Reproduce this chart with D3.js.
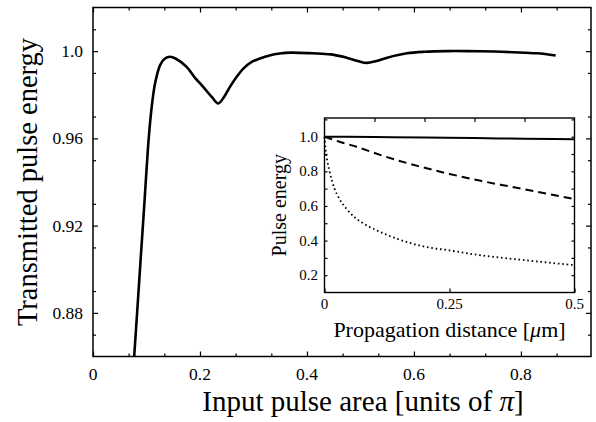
<!DOCTYPE html>
<html>
<head>
<meta charset="utf-8">
<script src="https://cdn.jsdelivr.net/npm/d3@7"></script>
<style>
  html, body { margin: 0; padding: 0; background: #fff; }
  svg { display: block; font-family: "Liberation Serif", "Times New Roman", serif; }
  .axis path { display: none; }
  .axis line { stroke: #000; stroke-width: 1.2; }
  .axis text { fill: #000; }
</style>
</head>
<body>
<svg id="chart" width="596" height="422"></svg>
<script>
// Transmitted energy versus input pulse area
const areaValues = [0.077, 0.083, 0.090, 0.096, 0.1025, 0.107, 0.111, 0.116, 0.1254, 0.134, 0.144, 0.155,
  0.175, 0.19, 0.206, 0.222, 0.234, 0.245, 0.256, 0.268, 0.281, 0.296, 0.312, 0.33, 0.349, 0.37,
  0.41, 0.445, 0.474, 0.495, 0.512, 0.53, 0.55, 0.587, 0.62, 0.661, 0.7, 0.75, 0.785, 0.83, 0.865];
const transmitted = [0.86, 0.882, 0.908, 0.93, 0.9546, 0.968, 0.977, 0.9852, 0.9936, 0.9965, 0.9974, 0.9965,
  0.9928, 0.988, 0.9836, 0.979, 0.976, 0.979, 0.9836, 0.988, 0.992, 0.995, 0.9966, 0.998, 0.9989, 0.9993,
  0.999, 0.9985, 0.997, 0.9955, 0.9946, 0.9955, 0.997, 0.999, 0.9997, 1.0, 1.0, 0.9998, 0.9995, 0.999, 0.998];

const mainXTicks = [0, 0.2, 0.4, 0.6, 0.8];
const mainXTickLabels = ["0", "0.2", "0.4", "0.6", "0.8"];
const mainYTicks = [0.88, 0.92, 0.96, 1.0];
const mainYTickLabels = ["0.88", "0.92", "0.96", "1.0"];

// Inset: pulse energy versus propagation distance
const distSolid = [0, 0.1, 0.2, 0.3, 0.4, 0.5];
const energySolid = [1.0, 0.998, 0.995, 0.992, 0.988, 0.985];
const distDashed = [0, 0.03, 0.0625, 0.125, 0.1875, 0.25, 0.3125, 0.375, 0.4375, 0.5];
const energyDashed = [1.0, 0.971, 0.943, 0.882, 0.83, 0.785, 0.745, 0.71, 0.675, 0.64];
const distDotted = [0, 0.002, 0.005, 0.01, 0.02, 0.03, 0.045, 0.06, 0.08, 0.1, 0.125, 0.15, 0.2, 0.25,
  0.3, 0.35, 0.4, 0.45, 0.5];
const energyDotted = [1.0, 0.93, 0.87, 0.80, 0.70, 0.64, 0.58, 0.535, 0.495, 0.465, 0.433, 0.405, 0.365,
  0.343, 0.32, 0.302, 0.287, 0.272, 0.258];

const insetXTicks = [0, 0.25, 0.5];
const insetXTickLabels = ["0", "0.25", "0.5"];
const insetYTicks = [0.2, 0.4, 0.6, 0.8, 1.0];
const insetYTickLabels = ["0.2", "0.4", "0.6", "0.8", "1.0"];

const svg = d3.select("#chart");

// ---------- main panel ----------
const M = { left: 93, right: 591, top: 7.5, bottom: 356.5 };
const x = d3.scaleLinear().domain([0, 0.931]).range([M.left, M.right]);
const y = d3.scaleLinear().domain([0.86, 1.02]).range([M.bottom, M.top]);

const xMinor = d3.range(1, 14).map(k => k * 0.2 / 3).filter(v => Math.abs(v / 0.2 - Math.round(v / 0.2)) > 1e-6);
const yMinor = d3.range(0.87, 1.02, 0.02).map(v => +v.toFixed(2)).filter(v => !mainYTicks.some(t => Math.abs(t - v) < 1e-6));

function tickGroup(axisFn, scale, ticks, size, tx, ty) {
  svg.append("g").attr("class", "axis").attr("transform", `translate(${tx},${ty})`)
    .call(axisFn(scale).tickValues(ticks).tickSize(size).tickFormat(""));
}
// inward ticks on all four sides
tickGroup(d3.axisBottom, x, mainXTicks, -5, 0, M.bottom);
tickGroup(d3.axisBottom, x, xMinor, -3, 0, M.bottom);
tickGroup(d3.axisTop, x, mainXTicks, -5, 0, M.top);
tickGroup(d3.axisTop, x, xMinor, -3, 0, M.top);
tickGroup(d3.axisLeft, y, mainYTicks, -5, M.left, 0);
tickGroup(d3.axisLeft, y, yMinor, -3, M.left, 0);
tickGroup(d3.axisRight, y, mainYTicks, -5, M.right, 0);
tickGroup(d3.axisRight, y, yMinor, -3, M.right, 0);

svg.append("rect").attr("x", M.left).attr("y", M.top)
  .attr("width", M.right - M.left).attr("height", M.bottom - M.top)
  .attr("fill", "none").attr("stroke", "#000").attr("stroke-width", 1.5);

svg.append("g").selectAll("text").data(mainXTicks).join("text")
  .attr("x", d => x(d)).attr("y", 380).attr("text-anchor", "middle")
  .attr("font-size", 17.5).text((d, i) => mainXTickLabels[i]);
svg.append("g").selectAll("text").data(mainYTicks).join("text")
  .attr("x", 83).attr("y", d => y(d) + 6).attr("text-anchor", "end")
  .attr("font-size", 17.5).text((d, i) => mainYTickLabels[i]);

const xt = svg.append("text").attr("x", 363).attr("y", 411)
  .attr("text-anchor", "middle").attr("font-size", 29);
xt.append("tspan").text("Input pulse area [units of ");
xt.append("tspan").attr("font-style", "italic").text("π");
xt.append("tspan").text("]");

svg.append("text").attr("transform", `translate(37,${(M.top + M.bottom) / 2}) rotate(-90)`)
  .attr("text-anchor", "middle").attr("font-size", 28.5).text("Transmitted pulse energy");

svg.append("defs").append("clipPath").attr("id", "mainClip").append("rect")
  .attr("x", M.left).attr("y", M.top).attr("width", M.right - M.left).attr("height", M.bottom - M.top);

svg.append("path").datum(areaValues.map((v, i) => [v, transmitted[i]]))
  .attr("clip-path", "url(#mainClip)")
  .attr("fill", "none").attr("stroke", "#000").attr("stroke-width", 2.6).attr("stroke-linejoin", "round")
  .attr("d", d3.line().x(d => x(d[0])).y(d => y(d[1])).curve(d3.curveCatmullRom.alpha(0.5)));

// ---------- inset panel ----------
const I = { left: 324.5, right: 574.5, top: 118, bottom: 292.5 };
const ix = d3.scaleLinear().domain([0, 0.5]).range([I.left, I.right]);
const iy = d3.scaleLinear().domain([0.1, 1.108]).range([I.bottom, I.top]);

svg.append("rect").attr("x", I.left).attr("y", I.top)
  .attr("width", I.right - I.left).attr("height", I.bottom - I.top).attr("fill", "#fff");

const iyTen = d3.range(0.2, 1.11, 0.1).map(v => +v.toFixed(1));
const ixTen = [0.1, 0.2, 0.3, 0.4];
tickGroup(d3.axisBottom, ix, insetXTicks, -4, 0, I.bottom);
tickGroup(d3.axisTop, ix, ixTen, -4, 0, I.top);
tickGroup(d3.axisLeft, iy, iyTen, -3, I.left, 0);
tickGroup(d3.axisRight, iy, iyTen, -3, I.right, 0);

svg.append("rect").attr("x", I.left).attr("y", I.top)
  .attr("width", I.right - I.left).attr("height", I.bottom - I.top)
  .attr("fill", "none").attr("stroke", "#000").attr("stroke-width", 1.4);

svg.append("g").selectAll("text").data(insetXTicks).join("text")
  .attr("x", d => ix(d)).attr("y", 309).attr("text-anchor", "middle")
  .attr("font-size", 15).text((d, i) => insetXTickLabels[i]);
svg.append("g").selectAll("text").data(insetYTicks).join("text")
  .attr("x", 318).attr("y", d => iy(d) + 5).attr("text-anchor", "end")
  .attr("font-size", 15).text((d, i) => insetYTickLabels[i]);

const ixt = svg.append("text").attr("x", (I.left + I.right) / 2).attr("y", 337)
  .attr("text-anchor", "middle").attr("font-size", 22);
ixt.append("tspan").text("Propagation distance [");
ixt.append("tspan").attr("font-style", "italic").text("μ");
ixt.append("tspan").text("m]");

svg.append("text").attr("transform", `translate(286,${(I.top + I.bottom) / 2}) rotate(-90)`)
  .attr("text-anchor", "middle").attr("font-size", 20).text("Pulse energy");

const iline = d3.line().x(d => ix(d[0])).y(d => iy(d[1])).curve(d3.curveMonotoneX);
svg.append("path").datum(distSolid.map((v, i) => [v, energySolid[i]]))
  .attr("fill", "none").attr("stroke", "#000").attr("stroke-width", 2).attr("d", iline);
svg.append("path").datum(distDashed.map((v, i) => [v, energyDashed[i]]))
  .attr("fill", "none").attr("stroke", "#000").attr("stroke-width", 2)
  .attr("stroke-dasharray", "8,5").attr("d", iline);
svg.append("path").datum(distDotted.map((v, i) => [v, energyDotted[i]]))
  .attr("fill", "none").attr("stroke", "#000").attr("stroke-width", 1.8)
  .attr("stroke-dasharray", "1.6,2.8").attr("d", iline);
</script>
</body>
</html>
